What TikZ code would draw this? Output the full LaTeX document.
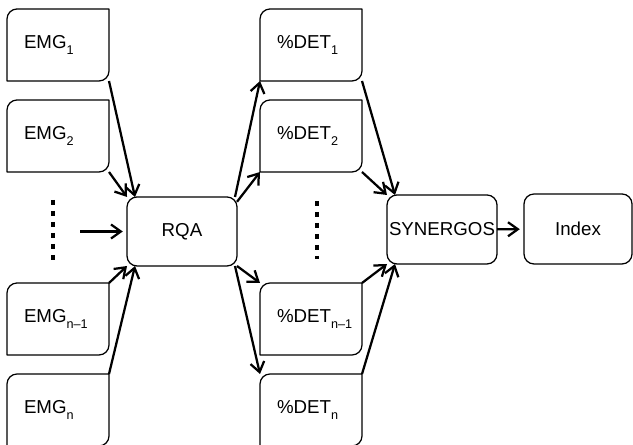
\documentclass[tikz,border=0pt]{standalone}
\usepackage{fontspec}
\setmainfont{Liberation Sans}
\usetikzlibrary{arrows.meta}

% lowered index in the box labels
\newcommand{\lowidx}[1]{\raisebox{-4pt}{\fontsize{9}{9}\selectfont #1}}
% box outline with two rounded corners (top left, bottom right)
\newcommand{\halfround}[1]{%
  \draw[boxline] (#1.north east) -- ([yshift=0.25cm]#1.south east)
    arc[start angle=0, end angle=-90, radius=0.25cm] -- (#1.south west)
    -- ([yshift=-0.25cm]#1.north west)
    arc[start angle=180, end angle=90, radius=0.25cm] -- cycle;}

\tikzset{
  sigbox/.style={minimum width=2.55cm, minimum height=1.8cm, text width=1.7cm,
    align=left, inner xsep=0.425cm, inner ysep=0pt, outer sep=0pt},
  procbox/.style={draw, line width=0.9pt, rounded corners=0.25cm,
    minimum width=2.75cm, minimum height=1.725cm, inner sep=0pt, outer sep=0pt},
  boxline/.style={line width=0.9pt, line join=round},
  flow/.style={-{Straight Barb[length=7pt,width=10pt]}, line width=1.6pt},
  vdots/.style={line width=3.5pt, dash pattern=on 3.5pt off 4.3pt}
}

\begin{document}
\begin{tikzpicture}[font=\fontsize{13.3}{15}\selectfont]
            \useasboundingbox (0,0) rectangle (15.825,11.125);

            \node[sigbox] (E1)  at (1.45,10.0)  {EMG\lowidx{1}};
            \node[sigbox] (E2)  at (1.45,7.725) {EMG\lowidx{2}};
            \node[sigbox] (En1) at (1.45,3.15)  {EMG\lowidx{n--1}};
            \node[sigbox] (En)  at (1.45,0.875) {EMG\lowidx{n}};

            \node[procbox] (RQA) at (4.55,5.3375) {RQA};

            \node[sigbox] (D1)  at (7.775,10.0)  {\%DET\lowidx{1}};
            \node[sigbox] (D2)  at (7.775,7.725) {\%DET\lowidx{2}};
            \node[sigbox] (Dn1) at (7.775,3.15)  {\%DET\lowidx{n--1}};
            \node[sigbox] (Dn)  at (7.775,0.875) {\%DET\lowidx{n}};

            \node[procbox] (SYN) at (11.05,5.3875) {SYNERGOS};
            \node[procbox, minimum width=2.7cm, minimum height=1.75cm] (IDX) at (14.45,5.4) {Index};

            \halfround{E1}
            \halfround{E2}
            \halfround{En1}
            \halfround{En}
            \halfround{D1}
            \halfround{D2}
            \halfround{Dn1}
            \halfround{Dn}

            % the omitted channels
            \draw[vdots] (1.325,6.125) -- (1.325,4.625);
            \draw[vdots] (7.925,6.1) -- (7.925,4.65);
            \coordinate (dotin) at (2.0,5.3375);

            \draw[flow] (E1.south east) -- ([xshift=0.2cm]RQA.north west);
            \draw[flow] (E2.south east) -- (RQA.north west);
            \draw[flow, shorten >=3pt] (dotin) -- (RQA.west);
            \draw[flow] (En1.north east) -- (RQA.south west);
            \draw[flow] (En.north east) -- ([xshift=0.2cm]RQA.south west);

            \draw[flow] ([xshift=-0.05cm]RQA.north east) -- (D1.south west);
            \draw[flow] ([yshift=-0.12cm]RQA.north east) -- (D2.south west);
            \draw[flow] (RQA.south east) -- (Dn1.north west);
            \draw[flow] ([xshift=-0.05cm]RQA.south east) -- (Dn.north west);

            \draw[flow] (D1.south east) -- ([xshift=0.2cm]SYN.north west);
            \draw[flow] (D2.south east) -- (SYN.north west);
            \draw[flow] (Dn1.north east) -- (SYN.south west);
            \draw[flow] (Dn.north east) -- ([xshift=0.2cm]SYN.south west);
            \draw[flow, shorten >=3pt] (SYN) -- (IDX);
        \end{tikzpicture}
\end{document}
